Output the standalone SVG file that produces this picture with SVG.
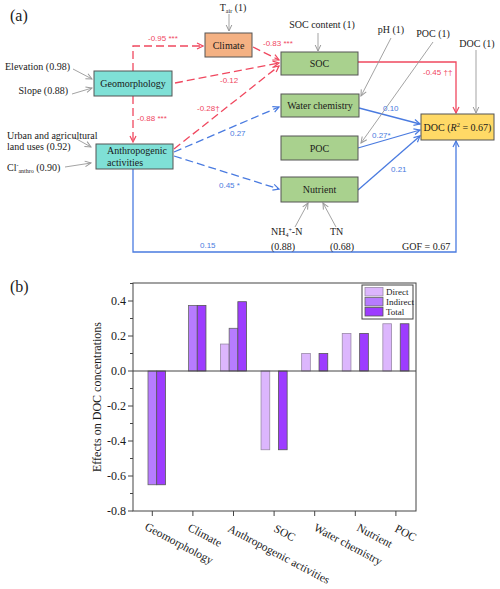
<svg xmlns="http://www.w3.org/2000/svg" width="500" height="589" viewBox="0 0 500 589">
<style>
.s{font-family:"Liberation Serif","Times New Roman",serif;fill:#1a1a1a}
.t10{font-size:10px}
.t12{font-size:12px}
.lab{font-family:"Liberation Sans",Arial,sans-serif;font-size:8px}
.red{fill:#f0485f}
.blu{fill:#4a7be0}
.box{stroke:#555;stroke-width:1}
.rd{stroke:#f0485f;stroke-width:1.3;fill:none;stroke-dasharray:8 4;marker-end:url(#ar)}
.rs{stroke:#f0485f;stroke-width:1.3;fill:none;marker-end:url(#ar)}
.bd{stroke:#4a7be0;stroke-width:1.3;fill:none;stroke-dasharray:8 4;marker-end:url(#ab)}
.bs{stroke:#4a7be0;stroke-width:1.3;fill:none;marker-end:url(#ab)}
.gr{stroke:#999;stroke-width:0.9;fill:none;marker-end:url(#ag)}
.dir{fill:#dcb6fd;stroke:#9a8aa8;stroke-width:0.8}
.ind{fill:#b77cff;stroke:#666;stroke-width:0.8}
.tot{fill:#9d3cff;stroke:#555;stroke-width:0.8}
.ax{stroke:#444;stroke-width:1;fill:none}
</style>
<defs>
<marker id="ar" markerWidth="8" markerHeight="8" refX="7" refY="4" orient="auto" markerUnits="userSpaceOnUse"><path d="M1,1 L7,4 L1,7" fill="none" stroke="#f0485f" stroke-width="1.2"/></marker>
<marker id="ab" markerWidth="8" markerHeight="8" refX="7" refY="4" orient="auto" markerUnits="userSpaceOnUse"><path d="M1,1 L7,4 L1,7" fill="none" stroke="#4a7be0" stroke-width="1.2"/></marker>
<marker id="ag" markerWidth="8" markerHeight="8" refX="7" refY="4" orient="auto" markerUnits="userSpaceOnUse"><path d="M1,1.2 L7,4 L1,6.8" fill="none" stroke="#999" stroke-width="1"/></marker>
</defs>
<rect width="500" height="589" fill="#fff"/>
<text class="s" x="10" y="21" font-size="16">(a)</text>

<g id="connectors">
<path class="rd" d="M133,71 V46 H203"/>
<path class="rd" d="M133,96 V142"/>
<path class="rd" d="M253,47 L279,60"/>
<path class="rd" d="M175,83 L279,63"/>
<path class="rd" d="M174,149 L279,66"/>
<path class="bd" d="M174,152 L279,107"/>
<path class="bd" d="M174,156 L279,189"/>
<path class="rs" d="M358,62 H456 V113"/>
<path class="bs" d="M133,169 V252 H456 V141"/>
<path class="bs" d="M359,108 L420,124"/>
<path class="bs" d="M358,148 L420,130"/>
<path class="bs" d="M358,190 L420,136"/>
<path class="gr" d="M229,14 V31"/>
<path class="gr" d="M318,33 V51"/>
<path class="gr" d="M391,38 L361,96"/>
<path class="gr" d="M433,42 L361,143"/>
<path class="gr" d="M476,50 V113"/>
<path class="gr" d="M73,69 L92,79"/>
<path class="gr" d="M72,94 L92,88"/>
<path class="gr" d="M73,137 L91,147"/>
<path class="gr" d="M65,167 L91,163"/>
<path class="gr" d="M295,227 L308,203"/>
<path class="gr" d="M336,227 L323,203"/>
<text class="lab red" x="148" y="41">-0.95 ***</text>
<text class="lab red" x="137" y="121">-0.88 ***</text>
<text class="lab red" x="263" y="46">-0.83 ***</text>
<text class="lab red" x="220" y="83">-0.12</text>
<text class="lab red" x="197" y="111">-0.28†</text>
<text class="lab red" x="423" y="75">-0.45 ††</text>
<text class="lab blu" x="230" y="136">0.27</text>
<text class="lab blu" x="219" y="188">0.45 *</text>
<text class="lab blu" x="200" y="248">0.15</text>
<text class="lab blu" x="383" y="111">0.10</text>
<text class="lab blu" x="372" y="138">0.27*</text>
<text class="lab blu" x="391" y="172">0.21</text>
</g>

<g id="indicators" class="s t10">
<text x="233" y="11" text-anchor="middle">T<tspan font-size="6" dy="2">air</tspan><tspan dy="-2"> (1)</tspan></text>
<text x="70" y="69.5" text-anchor="end">Elevation (0.98)</text>
<text x="68" y="94" text-anchor="end">Slope (0.88)</text>
<text x="7" y="138.5">Urban and agricultural</text>
<text x="7" y="149.5">land uses (0.92)</text>
<text x="7" y="171">Cl<tspan font-size="6" dy="-4">-</tspan><tspan font-size="6" dy="6">anthro</tspan><tspan dy="-2"> (0.90)</tspan></text>
<text x="322" y="28" text-anchor="middle">SOC content (1)</text>
<text x="391" y="33" text-anchor="middle">pH (1)</text>
<text x="433" y="37" text-anchor="middle">POC (1)</text>
<text x="477" y="47" text-anchor="middle">DOC (1)</text>
<text x="271" y="235">NH<tspan font-size="6" dy="2">4</tspan><tspan font-size="6" dy="-5">+</tspan><tspan dy="3">-N</tspan></text>
<text x="271" y="249.5">(0.88)</text>
<text x="330" y="235">TN</text>
<text x="330" y="249.5">(0.68)</text>
<text x="402" y="249.5">GOF = 0.67</text>
</g>

<g id="climate"><rect class="box" x="205" y="33" width="47" height="24" fill="#f4b183"/><text class="s t10" x="228.5" y="48.5" text-anchor="middle">Climate</text></g>
<g id="geomorphology"><rect class="box" x="94" y="71" width="78" height="25" fill="#7fe0d6"/><text class="s t10" x="133" y="87" text-anchor="middle">Geomorphology</text></g>
<g id="anthropogenic"><rect class="box" x="96" y="144" width="77" height="25" fill="#7fe0d6"/><text class="s t10" x="107" y="153.5">Anthropogenic</text><text class="s t10" x="107" y="166">activities</text></g>
<g id="soc"><rect class="box" x="281" y="52" width="77" height="23" fill="#a9d18e"/><text class="s t10" x="319.5" y="67" text-anchor="middle">SOC</text></g>
<g id="water"><rect class="box" x="281" y="94" width="78" height="23" fill="#a9d18e"/><text class="s t10" x="320" y="109" text-anchor="middle">Water chemistry</text></g>
<g id="poc"><rect class="box" x="281" y="136" width="77" height="24" fill="#a9d18e"/><text class="s t10" x="319.5" y="151.5" text-anchor="middle">POC</text></g>
<g id="nutrient"><rect class="box" x="281" y="177" width="77" height="25" fill="#a9d18e"/><text class="s t10" x="319.5" y="193" text-anchor="middle">Nutrient</text></g>
<g id="doc"><rect class="box" x="421" y="114" width="73" height="26" fill="#ffd966"/><text class="s t10" x="457.5" y="131" text-anchor="middle">DOC (<tspan font-style="italic">R</tspan><tspan font-size="6.5" dy="-4">2</tspan><tspan dy="4"> = 0.67)</tspan></text></g>

<g id="chart">
<text class="s" x="10" y="292" font-size="16">(b)</text>
<!-- bars -->
<rect class="ind" x="148" y="371" width="8.7" height="113.75"/>
<rect class="tot" x="156.7" y="371" width="8.7" height="113.75"/>
<rect class="ind" x="188.55" y="305.4" width="8.7" height="65.6"/>
<rect class="tot" x="197.25" y="305.4" width="8.7" height="65.6"/>
<rect class="dir" x="220.45" y="344.05" width="8.7" height="26.95"/>
<rect class="ind" x="229.15" y="328.3" width="8.7" height="42.7"/>
<rect class="tot" x="237.85" y="301.7" width="8.7" height="69.3"/>
<rect class="dir" x="261.05" y="371" width="8.7" height="78.75"/>
<rect class="tot" x="278.45" y="371" width="8.7" height="78.75"/>
<rect class="dir" x="301.65" y="353.5" width="8.7" height="17.5"/>
<rect class="tot" x="319.05" y="353.5" width="8.7" height="17.5"/>
<rect class="dir" x="342.25" y="333.4" width="8.7" height="37.6"/>
<rect class="tot" x="359.65" y="333.4" width="8.7" height="37.6"/>
<rect class="dir" x="382.85" y="323.75" width="8.7" height="47.25"/>
<rect class="tot" x="400.25" y="323.75" width="8.7" height="47.25"/>
<line class="ax" x1="133" y1="371" x2="416" y2="371"/>
<rect class="ax" x="133" y="283" width="283" height="228"/>
<path class="ax" d="M128,301 H133 M128,336 H133 M128,371 H133 M128,406 H133 M128,441 H133 M128,476 H133 M128,511 H133 M130,318.5 H133 M130,353.5 H133 M130,388.5 H133 M130,423.5 H133 M130,458.5 H133 M130,493.5 H133 M130,283.5 H133"/>
<path class="ax" d="M152.3,511 V516 M192.9,511 V516 M233.5,511 V516 M274.1,511 V516 M314.7,511 V516 M355.3,511 V516 M395.9,511 V516"/>
<g class="s t12" text-anchor="end">
<text x="126" y="305">0.4</text>
<text x="126" y="340">0.2</text>
<text x="126" y="375">0.0</text>
<text x="126" y="410">-0.2</text>
<text x="126" y="445">-0.4</text>
<text x="126" y="480">-0.6</text>
<text x="126" y="515">-0.8</text>
</g>
<text class="s t12" transform="translate(101,397) rotate(-90)" text-anchor="middle">Effects on DOC concentrations</text>
<g class="s" font-size="11.5">
<text transform="translate(144,529) rotate(28)">Geomorphology</text>
<text transform="translate(187,530) rotate(28)">Climate</text>
<text transform="translate(227,531) rotate(28)">Anthropogenic activities</text>
<text transform="translate(273,531) rotate(28)">SOC</text>
<text transform="translate(313,530) rotate(28)">Water chemistry</text>
<text transform="translate(356,530) rotate(28)">Nutrient</text>
<text transform="translate(394,531) rotate(28)">POC</text>
</g>
<g id="legend">
<rect x="362" y="285" width="51" height="34" fill="#fff" stroke="#444" stroke-width="1"/>
<rect class="dir" x="365" y="287.5" width="18" height="8.5"/>
<rect class="ind" x="365" y="297.5" width="18" height="8.5"/>
<rect class="tot" x="365" y="307.5" width="18" height="8.5"/>
<g class="s" font-size="9">
<text x="386" y="294.5">Direct</text>
<text x="386" y="304.5">Indirect</text>
<text x="386" y="314.5">Total</text>
</g>
</g>
</g>
</svg>
